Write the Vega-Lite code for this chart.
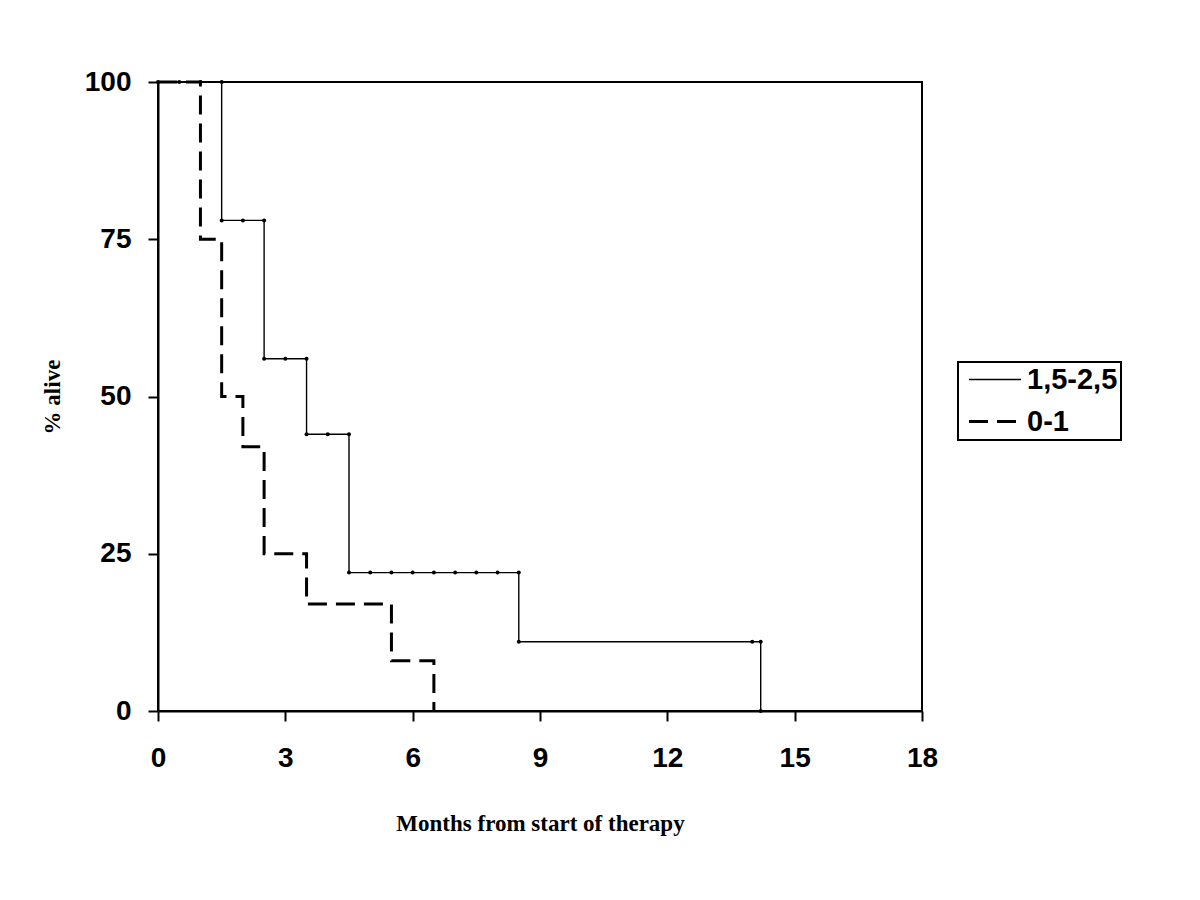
{
  "$schema": "https://vega.github.io/schema/vega-lite/v6.json",
  "autosize": {"type": "none"},
  "padding": {"left": 158, "top": 82, "right": 278, "bottom": 189},
  "width": 764,
  "height": 629,
  "background": "white",
  "config": {
    "view": {"stroke": "black", "strokeWidth": 2},
    "axis": {
      "grid": false,
      "labelFlush": false,
      "domainColor": "black",
      "domainWidth": 2,
      "tickColor": "black",
      "tickWidth": 2,
      "tickSize": 10,
      "labelFont": "Liberation Sans",
      "labelFontWeight": "bold",
      "labelFontSize": 28,
      "labelColor": "black",
      "titleFont": "Liberation Serif",
      "titleFontWeight": "bold",
      "titleFontSize": 23,
      "titleColor": "black"
    },
    "legend": {
      "orient": "none",
      "legendX": 800,
      "legendY": 280,
      "strokeColor": "black",
      "strokeWidth": 2,
      "padding": 3,
      "labelFont": "Liberation Sans",
      "labelFontWeight": "bold",
      "labelFontSize": 29,
      "labelColor": "black",
      "symbolType": "M-0.5,0H3.5",
      "symbolSize": 676,
      "symbolStrokeColor": "black",
      "labelOffset": 37,
      "rowPadding": 12
    }
  },
  "data": {
    "values": [
      {"series": "1,5-2,5", "i": 1, "month": 0, "alive": 100},
      {"series": "1,5-2,5", "i": 2, "month": 0.5, "alive": 100},
      {"series": "1,5-2,5", "i": 3, "month": 1, "alive": 100},
      {"series": "1,5-2,5", "i": 4, "month": 1.5, "alive": 100},
      {"series": "1,5-2,5", "i": 5, "month": 1.5, "alive": 78},
      {"series": "1,5-2,5", "i": 6, "month": 2, "alive": 78},
      {"series": "1,5-2,5", "i": 7, "month": 2.5, "alive": 78},
      {"series": "1,5-2,5", "i": 8, "month": 2.5, "alive": 56},
      {"series": "1,5-2,5", "i": 9, "month": 3, "alive": 56},
      {"series": "1,5-2,5", "i": 10, "month": 3.5, "alive": 56},
      {"series": "1,5-2,5", "i": 11, "month": 3.5, "alive": 44},
      {"series": "1,5-2,5", "i": 12, "month": 4, "alive": 44},
      {"series": "1,5-2,5", "i": 13, "month": 4.5, "alive": 44},
      {"series": "1,5-2,5", "i": 14, "month": 4.5, "alive": 22},
      {"series": "1,5-2,5", "i": 15, "month": 5, "alive": 22},
      {"series": "1,5-2,5", "i": 16, "month": 5.5, "alive": 22},
      {"series": "1,5-2,5", "i": 17, "month": 6, "alive": 22},
      {"series": "1,5-2,5", "i": 18, "month": 6.5, "alive": 22},
      {"series": "1,5-2,5", "i": 19, "month": 7, "alive": 22},
      {"series": "1,5-2,5", "i": 20, "month": 7.5, "alive": 22},
      {"series": "1,5-2,5", "i": 21, "month": 8, "alive": 22},
      {"series": "1,5-2,5", "i": 22, "month": 8.5, "alive": 22},
      {"series": "1,5-2,5", "i": 23, "month": 8.5, "alive": 11},
      {"series": "1,5-2,5", "i": 24, "month": 14, "alive": 11},
      {"series": "1,5-2,5", "i": 25, "month": 14.2, "alive": 11},
      {"series": "1,5-2,5", "i": 26, "month": 14.2, "alive": 0},
      {"series": "0-1", "i": 1, "month": 0, "alive": 100},
      {"series": "0-1", "i": 2, "month": 1, "alive": 100},
      {"series": "0-1", "i": 3, "month": 1, "alive": 75},
      {"series": "0-1", "i": 4, "month": 1.5, "alive": 75},
      {"series": "0-1", "i": 5, "month": 1.5, "alive": 50},
      {"series": "0-1", "i": 6, "month": 2, "alive": 50},
      {"series": "0-1", "i": 7, "month": 2, "alive": 42},
      {"series": "0-1", "i": 8, "month": 2.5, "alive": 42},
      {"series": "0-1", "i": 9, "month": 2.5, "alive": 25},
      {"series": "0-1", "i": 10, "month": 3.5, "alive": 25},
      {"series": "0-1", "i": 11, "month": 3.5, "alive": 17},
      {"series": "0-1", "i": 12, "month": 5.5, "alive": 17},
      {"series": "0-1", "i": 13, "month": 5.5, "alive": 8},
      {"series": "0-1", "i": 14, "month": 6.5, "alive": 8},
      {"series": "0-1", "i": 15, "month": 6.5, "alive": 0}
    ]
  },
  "encoding": {
    "x": {
      "field": "month",
      "type": "quantitative",
      "scale": {"domain": [0, 18], "nice": false},
      "axis": {
        "values": [0, 3, 6, 9, 12, 15, 18],
        "title": "Months from start of therapy",
        "labelPadding": 23,
        "titlePadding": 40
      }
    },
    "y": {
      "field": "alive",
      "type": "quantitative",
      "scale": {"domain": [0, 100], "nice": false},
      "axis": {
        "values": [0, 25, 50, 75, 100],
        "title": "% alive",
        "labelPadding": 17,
        "titlePadding": 20
      }
    }
  },
  "layer": [
    {
      "mark": {"type": "line", "color": "black"},
      "encoding": {
        "order": {"field": "i", "type": "quantitative"},
        "strokeDash": {
          "field": "series",
          "type": "nominal",
          "scale": {"domain": ["1,5-2,5", "0-1"], "range": [[1, 0], [19, 9]]},
          "legend": {"title": null}
        },
        "strokeWidth": {
          "field": "series",
          "type": "nominal",
          "scale": {"domain": ["1,5-2,5", "0-1"], "range": [1.4, 3]},
          "legend": {"title": null}
        }
      }
    },
    {
      "transform": [{"filter": "datum.series === '1,5-2,5'"}],
      "mark": {"type": "point", "filled": true, "color": "black", "size": 16, "opacity": 1}
    }
  ]
}
